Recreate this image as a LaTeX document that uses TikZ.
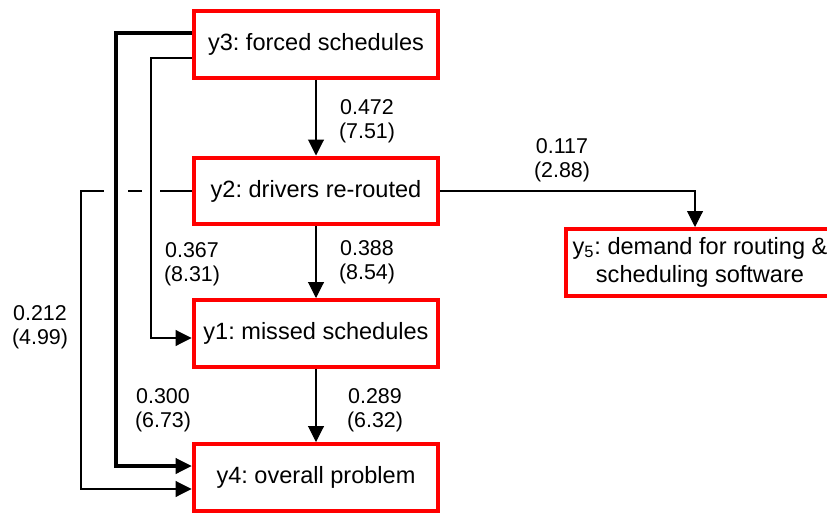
\documentclass[tikz,border=0pt]{standalone}
\usepackage{fontspec}
\setmainfont{Liberation Sans}
\usetikzlibrary{arrows.meta}
\frenchspacing

\begin{document}
\begin{tikzpicture}[x=0.02cm, y=-0.02cm,
    box/.style={draw=red, line width=0.08cm, fill=white, minimum width=4.9cm,
        minimum height=1.34cm, inner sep=0pt, align=center,
        font=\fontsize{13.4}{16.4}\selectfont},
    coef/.style={align=center, inner sep=0pt, font=\fontsize{12.2}{13.8}\selectfont},
    link/.style={line width=1pt, -{Triangle[length=0.32cm, width=0.32cm, line width=0.6pt]}},
    hop/.style={preaction={draw=white, line width=#1, -}}]
    \useasboundingbox (0,0) rectangle (827,513);
    \clip (0,0) rectangle (827,513);

    % Boxes
    \node[box] (y3) at (316,44.5) {y3: forced schedules};
    \node[box] (y2) at (316,191) {y2: drivers re-routed};
    \node[box] (y1) at (316,333.5) {y1: missed schedules};
    \node[box] (y4) at (316,477.5) {y4: overall problem};
    \node[box, minimum width=5.36cm] (y5) at (700,262.5)
        {y\textsubscript{5}: demand for routing \&\\scheduling software};

    % Side columns and ends
    \coordinate (c1) at (81,0);
    \coordinate (c2) at (116,0);
    \coordinate (c3) at (151,0);
    \coordinate (y3out1) at ([yshift=0.23cm]y3.west);
    \coordinate (y3out2) at ([yshift=-0.27cm]y3.west);
    \coordinate (y1in) at ([yshift=-0.09cm]y1.west);
    \coordinate (y4in1) at ([yshift=0.23cm]y4.west);
    \coordinate (y4in2) at ([yshift=-0.23cm]y4.west);

    % Straight links
    \draw[link] (y3) -- (y2);
    \draw[link] (y2) -- (y1);
    \draw[link] (y1) -- (y4);
    \draw[link] (y2.east) -| ([xshift=-0.1cm]y5.north);

    % Side links
    \draw[link, line width=1.1pt] (y2.west) -- (y2.west -| c1) |- (y4in2);
    \draw[link, line width=2pt, hop=0.48cm] (y3out1) -- (y3out1 -| c2) |- (y4in1);
    \draw[link, hop=0.36cm] (y3out2) -- (y3out2 -| c3) |- (y1in);

    % Coefficients
    \node[coef] (l32) at (367,121) {0.472\\(7.51)};
    \node[coef] (l21) at (367,262) {0.388\\(8.54)};
    \node[coef] (l31) at (192,264) {0.367\\(8.31)};
    \node[coef] (l24) at (40,327) {0.212\\(4.99)};
    \node[coef] (l34) at (163,410) {0.300\\(6.73)};
    \node[coef] (l14) at (375,410) {0.289\\(6.32)};
    \node[coef] (l25) at (562,160) {0.117\\(2.88)};
\end{tikzpicture}
\end{document}
